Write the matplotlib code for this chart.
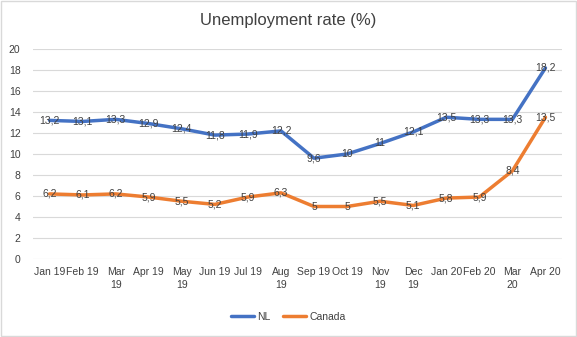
import matplotlib
matplotlib.use("Agg")
import matplotlib.pyplot as plt
from matplotlib.patches import Rectangle

plt.rcParams['font.family'] = ['Liberation Sans', 'DejaVu Sans']

# monthly data
months = ['Jan 19', 'Feb 19', 'Mar\n19', 'Apr 19', 'May\n19', 'Jun 19', 'Jul 19', 'Aug\n19',
          'Sep 19', 'Oct 19', 'Nov\n19', 'Dec\n19', 'Jan 20', 'Feb 20', 'Mar\n20', 'Apr 20']
nl = [13.2, 13.1, 13.3, 12.9, 12.4, 11.8, 11.9, 12.2, 9.6, 10, 11, 12.1, 13.5, 13.3, 13.3, 18.2]
canada = [6.2, 6.1, 6.2, 5.9, 5.5, 5.2, 5.9, 6.3, 5, 5, 5.5, 5.1, 5.8, 5.9, 8.4, 13.5]
yticks = list(range(0, 21, 2))

blue = '#4472C4'
orange = '#ED7D31'
txt = '#404040'
fs = 7.5

fig = plt.figure(figsize=(5.77, 3.37), dpi=100)
ax = fig.add_axes([33 / 577, (337 - 259) / 337, (562 - 33) / 577, (259 - 49) / 337])

x = list(range(len(months)))
ax.plot(x, nl, color=blue, lw=2.5, solid_capstyle='round', label='NL', zorder=3)
ax.plot(x, canada, color=orange, lw=2.5, solid_capstyle='round', label='Canada', zorder=3)


def fmt(v):
    return ('%g' % v).replace('.', ',')


for xi, v in zip(x, nl):
    ax.text(xi, v, fmt(v), ha='center', va='center', fontsize=fs, color=txt, zorder=4)
for xi, v in zip(x, canada):
    ax.text(xi, v, fmt(v), ha='center', va='center', fontsize=fs, color=txt, zorder=4)

ax.set_xlim(-0.5, len(months) - 0.5)
ax.set_ylim(0, 20)
ax.set_yticks(yticks)
ax.set_xticks(x)
ax.set_xticklabels(months, fontsize=fs, color=txt, linespacing=1.3)
ax.tick_params(axis='y', labelsize=fs, labelcolor=txt, length=0, pad=9)
ax.tick_params(axis='x', length=0, pad=6)
ax.grid(axis='y', color='#D9D9D9', lw=0.8)
ax.set_axisbelow(True)
for s in ax.spines.values():
    s.set_visible(False)

fig.text(0.5, 1 - 20 / 337, 'Unemployment rate (%)', ha='center', va='center',
         fontsize=12, color=txt)

fig.legend(loc='center', bbox_to_anchor=(0.5, 1 - 317 / 337), ncol=2, frameon=False,
           fontsize=fs, handlelength=2.2, handletextpad=0.3, columnspacing=1.2,
           labelcolor=txt)

# light frame round the chart
fig.add_artist(Rectangle((0.001, 0.002), 0.997, 0.996, transform=fig.transFigure,
                         fill=False, edgecolor='#D9D9D9', lw=1))

fig.savefig('out.png', dpi=100)
